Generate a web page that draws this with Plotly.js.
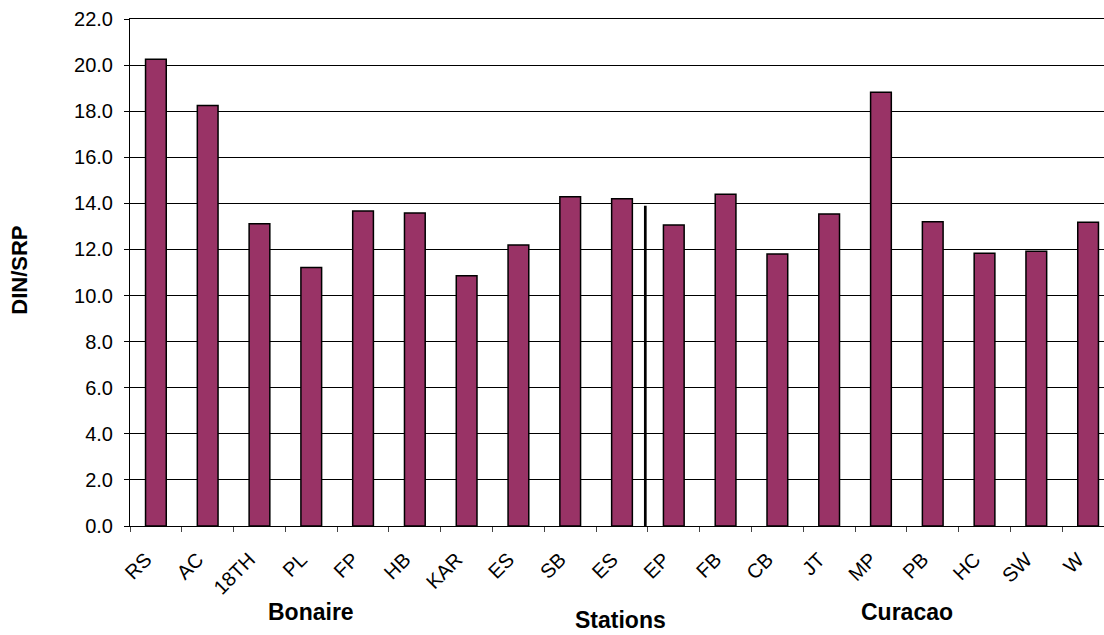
<!DOCTYPE html>
<html>
<head>
<meta charset="utf-8">
<script src="https://cdn.plot.ly/plotly-3.0.1.min.js"></script>
<style>
  html, body { margin: 0; padding: 0; overflow: hidden; background: #fff; }
  #chart { width: 1120px; height: 635px; }
</style>
</head>
<body>
<div id="chart"></div>
<script>
// Sampling stations, west to east (Bonaire first, then Curacao)
const stations = ['RS', 'AC', '18TH', 'PL', 'FP', 'HB', 'KAR', 'ES', 'SB', 'ES',
                  'EP', 'FB', 'CB', 'JT', 'MP', 'PB', 'HC', 'SW', 'W'];

// DIN/SRP ratio per station
const dinSrp = [20.25, 18.25, 13.12, 11.22, 13.67, 13.58, 10.86, 12.19, 14.29, 14.20,
                13.06, 14.40, 11.80, 13.54, 18.82, 13.20, 11.84, 11.92, 13.18];

// Y axis tick values
const yTicks = [0, 2, 4, 6, 8, 10, 12, 14, 16, 18, 20, 22];

// Island group labels and where they sit along the station axis
const groupNames = ['Bonaire', 'Curacao'];
const groupCenters = [3, 14.5];

// Separator between the two islands
const dividerX = 9.45;
const dividerTop = 13.9;

const positions = stations.map((_, i) => i);
const FONT = 'Liberation Sans, Arial, sans-serif';

const trace = {
  type: 'bar',
  x: positions,
  y: dinSrp,
  width: 0.4,
  marker: { color: '#993366', line: { color: '#000000', width: 1.5 } },
  hoverinfo: 'skip'
};

const annotations = groupNames.map((name, k) => ({
  text: '<b>' + name + '</b>',
  xref: 'x', yref: 'paper',
  x: groupCenters[k], y: -0.17,
  xanchor: 'center', yanchor: 'middle',
  showarrow: false,
  font: { family: FONT, size: 23, color: '#000' }
}));

annotations.push({
  text: '<b>Stations</b>',
  xref: 'x', yref: 'paper',
  x: 8.98, y: -0.186,
  xanchor: 'center', yanchor: 'middle',
  showarrow: false,
  font: { family: FONT, size: 23, color: '#000' }
});

annotations.push({
  text: '<b>DIN/SRP</b>',
  xref: 'paper', yref: 'paper',
  x: -0.112, y: 0.505,
  xanchor: 'center', yanchor: 'middle',
  textangle: -90,
  showarrow: false,
  font: { family: FONT, size: 22, color: '#000' }
});

const layout = {
  width: 1120,
  height: 635,
  margin: { l: 130, r: 6, t: 19, b: 109 },
  paper_bgcolor: '#ffffff',
  plot_bgcolor: '#ffffff',
  showlegend: false,
  font: { family: FONT, size: 20, color: '#000' },
  xaxis: {
    range: [-0.5, stations.length - 0.5],
    tickmode: 'array',
    tickvals: positions,
    ticktext: stations,
    tickangle: -45,
    ticks: '',
    ticklabelstandoff: 13,
    ticklabelshift: -10,
    showgrid: false,
    zeroline: false,
    showline: true,
    mirror: true,
    linecolor: '#000',
    linewidth: 1,
    tickfont: { family: FONT, size: 20, color: '#000' },
    minor: {
      tickmode: 'linear',
      tick0: -0.5,
      dtick: 1,
      ticks: 'outside',
      ticklen: 5,
      tickwidth: 1,
      tickcolor: '#444',
      showgrid: false
    },
    fixedrange: true
  },
  yaxis: {
    range: [0, 22],
    tickmode: 'array',
    tickvals: yTicks,
    tickformat: '.1f',
    ticks: 'outside',
    ticklen: 5,
    tickwidth: 1,
    tickcolor: '#000',
    ticklabelstandoff: 7,
    showgrid: true,
    gridcolor: '#000',
    gridwidth: 1,
    zeroline: false,
    showline: true,
    linecolor: '#000',
    linewidth: 1,
    tickfont: { family: FONT, size: 20, color: '#000' },
    fixedrange: true
  },
  shapes: [{
    type: 'line',
    xref: 'x', yref: 'y',
    x0: dividerX, x1: dividerX,
    y0: 0, y1: dividerTop,
    line: { color: '#000', width: 2.7 }
  }],
  annotations: annotations
};

Plotly.newPlot('chart', [trace], layout, { staticPlot: true, displayModeBar: false });
</script>
</body>
</html>
